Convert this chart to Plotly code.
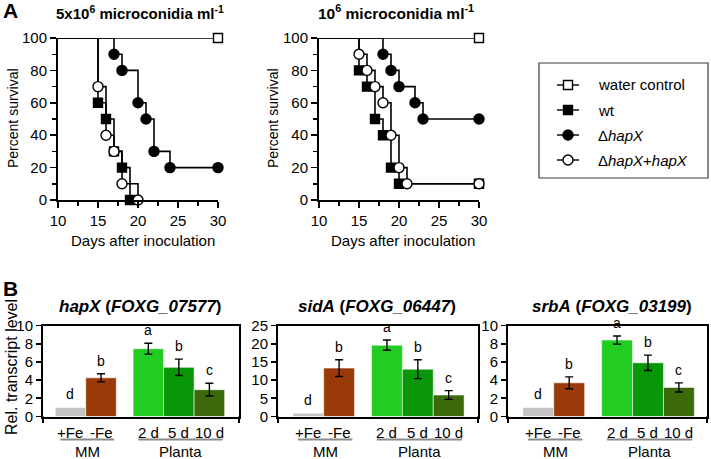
import plotly.graph_objects as go

W, H = 711, 459
def PX(p):  # pixel -> paper x
    return p / W
def PY(p):  # pixel -> paper y
    return 1 - p / H

FONT = "Arial, 'Liberation Sans', Helvetica, sans-serif"

# ---------------- Panel A data (Kaplan-Meier survival) ----------------
series_names = ["water control", "wt", "\u0394<i>hapX</i>", "\u0394<i>hapX</i>+<i>hapX</i>"]
series_symbols = ["square", "square", "circle", "circle"]
series_fills = ["white", "black", "black", "white"]

# 5x10^6 microconidia/ml : event days and percent survival after each event
hi_water_days = [30];                        hi_water_surv = [100]
hi_wt_days = [15, 16, 17, 18, 19];           hi_wt_surv = [60, 50, 30, 20, 0]
hi_dhapx_days = [17, 18, 20, 21, 22, 24, 30]; hi_dhapx_surv = [90, 80, 60, 50, 30, 20, 20]
hi_comp_days = [15, 16, 17, 18, 20];         hi_comp_surv = [70, 40, 30, 10, 0]

# 10^6 microconidia/ml
lo_water_days = [30];                             lo_water_surv = [100]
lo_wt_days = [15, 16, 17, 18, 19, 20, 30];        lo_wt_surv = [80, 70, 50, 40, 20, 10, 10]
lo_dhapx_days = [18, 19, 20, 22, 23, 30];         lo_dhapx_surv = [90, 80, 70, 60, 50, 50]
lo_comp_days = [15, 16, 17, 18, 19, 20, 21, 30];  lo_comp_surv = [90, 80, 70, 60, 40, 20, 10, 10]

start_day = 0
start_surv = 100

x_ticks_A = [10, 15, 20, 25, 30]
y_ticks_A = [0, 20, 40, 60, 80, 100]

# ---------------- Panel B data (relative transcript levels) ----------------
conditions = ["+Fe", "-Fe", "2 d", "5 d", "10 d"]
groups = ["MM", "MM", "Planta", "Planta", "Planta"]
bar_colors = ["#c4c4c4", "#9a3a08", "#22cc22", "#089708", "#3c6a0b"]

hapX_mean = [1.0, 4.25, 7.45, 5.4, 2.95]
hapX_err = [None, 0.45, 0.6, 0.9, 0.7]
hapX_letters = ["d", "b", "a", "b", "c"]

sidA_mean = [0.9, 13.3, 19.6, 13.0, 5.9]
sidA_err = [None, 2.3, 1.4, 2.6, 1.2]
sidA_letters = ["d", "b", "a", "b", "c"]

srbA_mean = [1.0, 3.7, 8.4, 5.9, 3.2]
srbA_err = [None, 0.65, 0.45, 0.85, 0.5]
srbA_letters = ["d", "b", "a", "b", "c"]

group_gap = 0.55
positions = []
for i, g in enumerate(groups):
    positions.append(i + (group_gap if g == "Planta" else 0))

fig = go.Figure()

# ---------------- Panel A traces ----------------
def add_km(days, surv, idx, xa, ya):
    fig.add_trace(go.Scatter(
        x=[start_day] + days, y=[start_surv] + surv, mode="lines",
        line=dict(shape="hv", color="black", width=1.6),
        xaxis=xa, yaxis=ya, showlegend=False, hoverinfo="skip"))

def add_markers(days, surv, idx, xa, ya):
    fig.add_trace(go.Scatter(
        x=days, y=surv, mode="markers", cliponaxis=False,
        marker=dict(symbol=series_symbols[idx], size=10 if series_symbols[idx] == "circle" else 9,
                    color=series_fills[idx], line=dict(color="black", width=1.4)),
        xaxis=xa, yaxis=ya, showlegend=False, name=series_names[idx]))

hi_sets = [(hi_water_days, hi_water_surv), (hi_wt_days, hi_wt_surv),
           (hi_dhapx_days, hi_dhapx_surv), (hi_comp_days, hi_comp_surv)]
lo_sets = [(lo_water_days, lo_water_surv), (lo_wt_days, lo_wt_surv),
           (lo_dhapx_days, lo_dhapx_surv), (lo_comp_days, lo_comp_surv)]

for sets, xa, ya in [(hi_sets, "x", "y"), (lo_sets, "x2", "y2")]:
    for i, (d, s) in enumerate(sets):
        add_km(d, s, i, xa, ya)
    for i, (d, s) in enumerate(sets):
        add_markers(d, s, i, xa, ya)

# ---------------- Legend (manual) ----------------
leg_y = [85, 110, 135, 160]
for i in range(4):
    fig.add_trace(go.Scatter(x=[557, 579], y=[leg_y[i], leg_y[i]], mode="lines",
                             line=dict(color="black", width=1.4), xaxis="x6", yaxis="y6",
                             showlegend=False, hoverinfo="skip"))
    fig.add_trace(go.Scatter(x=[568], y=[leg_y[i]], mode="markers", cliponaxis=False,
                             marker=dict(symbol=series_symbols[i],
                                         size=10 if series_symbols[i] == "circle" else 9,
                                         color=series_fills[i], line=dict(color="black", width=1.4)),
                             xaxis="x6", yaxis="y6", showlegend=False, hoverinfo="skip"))

# ---------------- Panel B traces ----------------
B_sets = [(hapX_mean, hapX_err, hapX_letters, "x3", "y3"),
          (sidA_mean, sidA_err, sidA_letters, "x4", "y4"),
          (srbA_mean, srbA_err, srbA_letters, "x5", "y5")]
annotations = []
for mean, err, letters, xa, ya in B_sets:
    fig.add_trace(go.Bar(
        x=positions, y=mean, width=1.0,
        marker=dict(color=bar_colors, line=dict(color="rgba(255,255,255,0.55)", width=1)),
        xaxis=xa, yaxis=ya, showlegend=False))
    ex = [p for p, e in zip(positions, err) if e is not None]
    ey = [m for m, e in zip(mean, err) if e is not None]
    ee = [e for e in err if e is not None]
    fig.add_trace(go.Scatter(
        x=ex, y=ey, mode="markers", marker=dict(size=1, opacity=0),
        error_y=dict(type="data", array=ee, visible=True, color="black", thickness=1.4, width=4),
        xaxis=xa, yaxis=ya, showlegend=False, hoverinfo="skip"))
    for p, m, e, l in zip(positions, mean, err, letters):
        annotations.append(dict(x=p, y=m + (e or 0), xref=xa, yref=ya, text=l, showarrow=False,
                                yanchor="bottom", yshift=3, font=dict(size=14, color="black", family=FONT)))
    for p, c in zip(positions, conditions):
        annotations.append(dict(x=p, y=PY(432), xref=xa, yref="paper", text=c, showarrow=False,
                                yanchor="middle", font=dict(size=15, color="black", family=FONT)))

# ---------------- Layout ----------------
axA = dict(showline=True, linecolor="black", linewidth=2, ticks="outside", ticklen=6, tickwidth=1.6,
           tickcolor="black", showgrid=False, zeroline=False, automargin=False,
           tickfont=dict(size=15, color="black", family=FONT))
layout = dict(
    width=W, height=H, margin=dict(l=0, r=0, t=0, b=0, pad=0, autoexpand=False),
    paper_bgcolor="white", plot_bgcolor="white",
    font=dict(family=FONT, color="black"),
    bargap=0, barmode="overlay", showlegend=False,
)
layout["xaxis"] = dict(axA, domain=[PX(58), PX(218)], range=[10, 30], tickvals=x_ticks_A, anchor="y",
                       minor=dict(dtick=2.5, tick0=10, ticks="outside", ticklen=4, tickcolor="black", tickwidth=1.4))
layout["yaxis"] = dict(axA, domain=[PY(200), PY(38)], range=[0, 100], tickvals=y_ticks_A, anchor="x",
                       minor=dict(dtick=10, tick0=0, ticks="outside", ticklen=4, tickcolor="black", tickwidth=1.4))
layout["xaxis2"] = dict(axA, domain=[PX(319), PX(479)], range=[10, 30], tickvals=x_ticks_A, anchor="y2",
                        minor=dict(dtick=2.5, tick0=10, ticks="outside", ticklen=4, tickcolor="black", tickwidth=1.4))
layout["yaxis2"] = dict(axA, domain=[PY(200), PY(38)], range=[0, 100], tickvals=y_ticks_A, anchor="x2",
                        minor=dict(dtick=10, tick0=0, ticks="outside", ticklen=4, tickcolor="black", tickwidth=1.4))

B_geom = [("x3", "y3", 43, 239, [-0.9, 5.52], [0, 10], 2),
          ("x4", "y4", 278, 478, [-0.98, 5.5], [0, 25], 5),
          ("x5", "y5", 508, 707, [-0.98, 5.46], [0, 10], 2)]
shapes = []
for xa, ya, l, r, xr, yr, dt in B_geom:
    xk = "xaxis" + xa[1:]
    yk = "yaxis" + ya[1:]
    layout[xk] = dict(domain=[PX(l), PX(r)], range=xr, anchor=ya, showline=True, mirror=True,
                      linecolor="black", linewidth=2, showticklabels=False, ticks="", automargin=False,
                      showgrid=False, zeroline=False, fixedrange=True)
    layout[yk] = dict(domain=[PY(416.5), PY(325.5)], range=yr, dtick=dt, anchor=xa, showline=True,
                      mirror=True, linecolor="black", linewidth=2, ticks="outside", ticklen=5,
                      tickwidth=1.6, tickcolor="black", showgrid=False, zeroline=False, automargin=False,
                      tickfont=dict(size=15, color="black", family=FONT))
    # frame extensions below the baseline
    for xd in (0, 1):
        shapes.append(dict(type="line", xref=xa + " domain", yref="paper", x0=xd, x1=xd,
                           y0=PY(416.5), y1=PY(423), line=dict(color="black", width=2)))
    # group underlines & group labels
    for grp in ["MM", "Planta"]:
        ps = [p for p, g in zip(positions, groups) if g == grp]
        shapes.append(dict(type="line", xref=xa, yref="paper", x0=ps[0] - 0.33, x1=ps[-1] + 0.43,
                           y0=PY(439.5), y1=PY(439.5), line=dict(color="#8a8a8a", width=2)))
        annotations.append(dict(x=(ps[0] + ps[-1]) / 2 + 0.05, y=PY(451), xref=xa, yref="paper", text=grp,
                                showarrow=False, yanchor="middle",
                                font=dict(size=15, color="black", family=FONT)))

layout["xaxis6"] = dict(domain=[PX(539), PX(708)], range=[539, 708], visible=False, anchor="y6", fixedrange=True)
layout["yaxis6"] = dict(domain=[PY(178), PY(63)], range=[178, 63], visible=False, anchor="x6", fixedrange=True)
shapes.append(dict(type="rect", xref="paper", yref="paper", x0=PX(539), x1=PX(708), y0=PY(178), y1=PY(63),
                   line=dict(color="#3a3a3a", width=1.2)))
for i in range(4):
    annotations.append(dict(x=PX(596), y=PY(leg_y[i]), xref="paper", yref="paper", text=series_names[i],
                            showarrow=False, xanchor="left", yanchor="middle",
                            font=dict(size=15, color="black", family=FONT)))

def txt(x, y, t, size, bold=False, angle=0, xanchor="center"):
    annotations.append(dict(x=PX(x), y=PY(y), xref="paper", yref="paper",
                            text=("<b>%s</b>" % t) if bold else t, showarrow=False, textangle=angle,
                            xanchor=xanchor, yanchor="middle", font=dict(size=size, color="black", family=FONT)))

txt(10, 11, "A", 21, bold=True)
txt(140, 12, "5x10<sup>6</sup> microconidia ml<sup>-1</sup>", 15, bold=True)
txt(396, 12, "10<sup>6</sup> microconidia ml<sup>-1</sup>", 15.5, bold=True)
txt(13, 118, "Percent survival", 14, angle=-90)
txt(273, 118, "Percent survival", 14, angle=-90)
txt(143, 240, "Days after inoculation", 15)
txt(403, 240, "Days after inoculation", 15)

txt(10, 288, "B", 21, bold=True)
txt(140, 306, "<i>hapX</i> (<i>FOXG_07577</i>)", 17, bold=True)
txt(377, 306, "<i>sidA</i> (<i>FOXG_06447</i>)", 17, bold=True)
txt(612, 306, "<i>srbA</i> (<i>FOXG_03199</i>)", 17, bold=True)
txt(11, 367, "Rel. transcript level", 16, angle=-90)

layout["annotations"] = annotations
layout["shapes"] = shapes
fig.update_layout(**layout)

fig.write_html("out.html", config={"displayModeBar": False, "staticPlot": True},
               post_script="document.body.style.margin='0px';document.body.style.padding='0px';"
                           "document.body.style.overflow='hidden';")
